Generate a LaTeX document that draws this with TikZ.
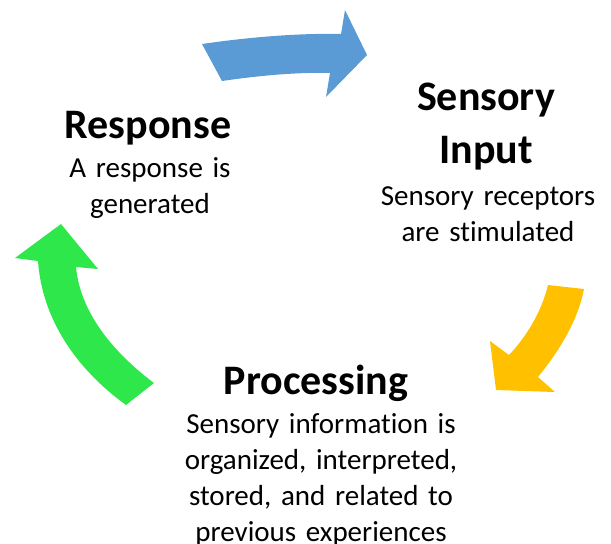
\documentclass[tikz,border=0pt]{standalone}
\usepackage{fontspec}
\setmainfont{Carlito}[Ligatures=NoCommon]
\definecolor{cycblue}{HTML}{5B9BD5}
\definecolor{cycgold}{HTML}{FFC000}
\definecolor{cycgreen}{HTML}{2EE84B}
\begin{document}
\begin{tikzpicture}[x=1pt,y=-1pt,
  heading/.style={font=\fontsize{42}{53}\selectfont\bfseries, inner sep=0pt,
    anchor=base, text width=260pt, align=center},
  body/.style={font=\fontsize{29}{36}\selectfont, inner sep=0pt,
    anchor=base, text width=320pt, align=center}]
\useasboundingbox (0,0) rectangle (611,544);

% curved block arrows of the cycle
\fill[cycblue] (202,44) .. controls (250,37) and (300,33) .. (341,34)
  -- (345,10) -- (367,55) -- (326,97) -- (330,73)
  .. controls (290,72) and (250,77) .. (222,81) -- cycle;
\fill[cycgold] (548,285) -- (584,289)
  .. controls (578,320) and (560,350) .. (538,377)
  -- (555,392) -- (496,390) -- (490,341) -- (509,355)
  .. controls (528,335) and (542,310) .. (548,285) -- cycle;
\fill[cycgreen] (154,383) -- (126,405)
  .. controls (75,368) and (42,318) .. (38,261)
  -- (15,258) -- (61,224) -- (98,269) -- (76,267)
  .. controls (80,310) and (110,350) .. (154,383) -- cycle;

% stage labels
\node[heading] (resptitle) at (148,138) {Response};
\node[body] (resptext) at (150,177) {A response is\\generated};
\node[heading] (senstitle) at (486,110) {Sensory\\Input};
\node[body] (senstext) at (488,205) {Sensory receptors\\are stimulated};
\node[heading] (proctitle) at (316,394) {Processing};
\node[body] (proctext) at (321,433) {Sensory information is\\organized, interpreted,\\stored, and related to\\previous experiences};
\end{tikzpicture}
\end{document}
